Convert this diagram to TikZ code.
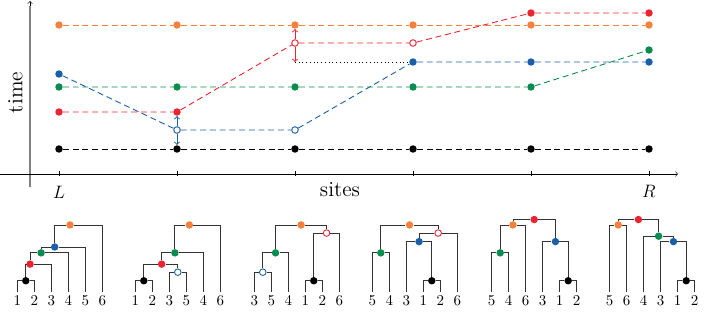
\documentclass[tikz,border=0pt]{standalone}
\usepackage{tikz}
\usetikzlibrary{arrows, positioning}
\definecolor{lorange}{HTML}{F4823C}
\definecolor{lred}{HTML}{EC2431}
\definecolor{lblue}{HTML}{1B5FA8}
\definecolor{lgreen}{HTML}{0B8C4F}
\tikzstyle{dot}    = [circle, inner sep=0pt, minimum size=5pt, fill=#1]
\tikzstyle{odot}   = [circle, inner sep=0pt, minimum size=4.4pt, draw=#1, fill=white, line width=0.6pt]
\tikzstyle{lin}    = [#1, dash pattern=on 4pt off 2.5pt, line width=0.6pt]
\tikzstyle{jump}   = [#1, line width=0.6pt, ->, >=to]
\tikzstyle{branch} = [black!80, line width=0.6pt]
\tikzstyle{leaf}   = [anchor=north, inner sep=2pt]

\begin{document}
\begin{tikzpicture}[x=0.0235cm, y=0.0235cm]
\useasboundingbox (0,-141) rectangle (705,174);

% osy
\coordinate (x0) at (0,0);
\coordinate (x1) at (678,0);
\coordinate (y0) at (30,-13);
\coordinate (y1) at (30,173);
\coordinate (y2) at (30,168);
\draw[gray, line width=1.2pt] (y0) -- (y2);
\draw[->, >=to] (y2) -- (y1);
\draw[->, >=to] (x0) -- (x1);
\foreach \s in {59,177,295,413,531,649}
  \draw (\s,2.5) -- (\s,-2.5);
\node[rotate=90] (time) at (15.5,81.5) {\Large time};
\node (sites) at (340,-16) {\Large sites};
\node (left)  at (59,-18)  {\large $L$};
\node (right) at (649,-17) {\large $R$};

% vrcholy nahoře
\node[dot=lorange] (o1) at (59,149)  {};
\node[dot=lorange] (o2) at (177,149) {};
\node[dot=lorange] (o3) at (295,149) {};
\node[dot=lorange] (o4) at (413,149) {};
\node[dot=lorange] (o5) at (531,149) {};
\node[dot=lorange] (o6) at (649,149) {};

\node[dot=lred]  (r1) at (59,62)   {};
\node[dot=lred]  (r2) at (177,62)  {};
\node[odot=lred] (r3) at (295,131) {};
\node[odot=lred] (r4) at (413,131) {};
\node[dot=lred]  (r5) at (531,161) {};
\node[dot=lred]  (r6) at (649,161) {};

\node[dot=lblue]  (b1) at (59,100)  {};
\node[odot=lblue] (b2) at (177,44)  {};
\node[odot=lblue] (b3) at (295,44)  {};
\node[dot=lblue]  (b4) at (413,112) {};
\node[dot=lblue]  (b5) at (531,112) {};
\node[dot=lblue]  (b6) at (649,112) {};

\node[dot=lgreen] (g1) at (59,87)   {};
\node[dot=lgreen] (g2) at (177,87)  {};
\node[dot=lgreen] (g3) at (295,87)  {};
\node[dot=lgreen] (g4) at (413,87)  {};
\node[dot=lgreen] (g5) at (531,87)  {};
\node[dot=lgreen] (g6) at (649,124) {};

\node[dot=black] (k1) at (59,25)  {};
\node[dot=black] (k2) at (177,25) {};
\node[dot=black] (k3) at (295,25) {};
\node[dot=black] (k4) at (413,25) {};
\node[dot=black] (k5) at (531,25) {};
\node[dot=black] (k6) at (649,25) {};

\coordinate (d3) at (295,112);

% linie
\draw[lin=lorange] (o1) -- (o2) -- (o3) -- (o4) -- (o5) -- (o6);
\draw[lin=lred]    (r1) -- (r2) -- (r3) -- (r4) -- (r5) -- (r6);
\draw[lin=lblue]   (b1) -- (b2) -- (b3) -- (b4) -- (b5) -- (b6);
\draw[lin=lgreen]  (g1) -- (g2) -- (g3) -- (g4) -- (g5) -- (g6);
\draw[lin=black]   (k1) -- (k2) -- (k3) -- (k4) -- (k5) -- (k6);
\draw[black, dotted, line width=0.5pt] (d3) -- (b4);

% skoky
\draw[jump=lblue] (b2) -- (r2);
\draw[jump=lblue] (b2) -- (k2);
\draw[jump=lred]  (r3) -- (o3);
\draw[jump=lred]  (r3) -- (d3);

% strom 1
\begin{scope}[shift={(17.3,-118)}, xscale=17, yscale=0.45]
\node[leaf] (a0) at (0,0) {1};
\node[leaf] (a1) at (1,0) {2};
\node[leaf] (a2) at (2,0) {3};
\node[leaf] (a3) at (3,0) {4};
\node[leaf] (a4) at (4,0) {5};
\node[leaf] (a5) at (5,0) {6};
\node[dot=black]   (ak) at (0.5,25)  {};
\node[dot=lred]    (ar) at (0.75,62) {};
\node[dot=lgreen]  (ag) at (1.4,87)  {};
\node[dot=lblue]   (ab) at (2.2,100) {};
\node[dot=lorange] (ao) at (3.1,149) {};
\draw[branch] (ak) -| (a0);  \draw[branch] (ak) -| (a1);
\draw[branch] (ar) -| (ak);  \draw[branch] (ar) -| (a2);
\draw[branch] (ag) -| (ar);  \draw[branch] (ag) -| (a3);
\draw[branch] (ab) -| (ag);  \draw[branch] (ab) -| (a4);
\draw[branch] (ao) -| (ab);  \draw[branch] (ao) -| (a5);
\end{scope}

% strom 2
\begin{scope}[shift={(135.3,-118)}, xscale=17, yscale=0.45]
\node[leaf] (c0) at (0,0) {1};
\node[leaf] (c1) at (1,0) {2};
\node[leaf] (c2) at (2,0) {3};
\node[leaf] (c3) at (3,0) {5};
\node[leaf] (c4) at (4,0) {4};
\node[leaf] (c5) at (5,0) {6};
\node[dot=black]   (ck) at (0.5,25)  {};
\node[odot=lblue]  (cb) at (2.5,44)  {};
\node[dot=lred]    (cr) at (1.55,62) {};
\node[dot=lgreen]  (cg) at (2.33,87) {};
\node[dot=lorange] (co) at (3.18,149) {};
\draw[branch] (ck) -| (c0);  \draw[branch] (ck) -| (c1);
\draw[branch] (cb) -| (c2);  \draw[branch] (cb) -| (c3);
\draw[branch] (cr) -| (ck);  \draw[branch] (cr) -| (cb);
\draw[branch] (cg) -| (cr);  \draw[branch] (cg) -| (c4);
\draw[branch] (co) -| (cg);  \draw[branch] (co) -| (c5);
\end{scope}

% strom 3
\begin{scope}[shift={(254.3,-118)}, xscale=17, yscale=0.45]
\node[leaf] (e0) at (0,0) {3};
\node[leaf] (e1) at (1,0) {5};
\node[leaf] (e2) at (2,0) {4};
\node[leaf] (e3) at (3,0) {1};
\node[leaf] (e4) at (4,0) {2};
\node[leaf] (e5) at (5,0) {6};
\node[odot=lblue]  (eb) at (0.5,44)   {};
\node[dot=lgreen]  (eg) at (1.25,87)  {};
\node[dot=black]   (ek) at (3.5,25)   {};
\node[odot=lred]   (er) at (4.25,131) {};
\node[dot=lorange] (eo) at (2.75,149) {};
\draw[branch] (eb) -| (e0);  \draw[branch] (eb) -| (e1);
\draw[branch] (eg) -| (eb);  \draw[branch] (eg) -| (e2);
\draw[branch] (ek) -| (e3);  \draw[branch] (ek) -| (e4);
\draw[branch] (er) -| (ek);  \draw[branch] (er) -| (e5);
\draw[branch] (eo) -| (eg);  \draw[branch] (eo) -| (er);
\end{scope}

% strom 4
\begin{scope}[shift={(372.3,-118)}, xscale=17, yscale=0.45]
\node[leaf] (f0) at (0,0) {5};
\node[leaf] (f1) at (1,0) {4};
\node[leaf] (f2) at (2,0) {3};
\node[leaf] (f3) at (3,0) {1};
\node[leaf] (f4) at (4,0) {2};
\node[leaf] (f5) at (5,0) {6};
\node[dot=lgreen]  (fg) at (0.5,87)    {};
\node[dot=black]   (fk) at (3.5,25)    {};
\node[dot=lblue]   (fb) at (2.75,112)  {};
\node[odot=lred]   (fr) at (3.875,131) {};
\node[dot=lorange] (fo) at (2.19,149)  {};
\draw[branch] (fg) -| (f0);  \draw[branch] (fg) -| (f1);
\draw[branch] (fk) -| (f3);  \draw[branch] (fk) -| (f4);
\draw[branch] (fb) -| (f2);  \draw[branch] (fb) -| (fk);
\draw[branch] (fr) -| (fb);  \draw[branch] (fr) -| (f5);
\draw[branch] (fo) -| (fg);  \draw[branch] (fo) -| (fr);
\end{scope}

% strom 5
\begin{scope}[shift={(491.7,-118)}, xscale=17, yscale=0.45]
\node[leaf] (h0) at (0,0) {5};
\node[leaf] (h1) at (1,0) {4};
\node[leaf] (h2) at (2,0) {6};
\node[leaf] (h3) at (3,0) {3};
\node[leaf] (h4) at (4,0) {1};
\node[leaf] (h5) at (5,0) {2};
\node[dot=lgreen]  (hg) at (0.5,87)   {};
\node[dot=lorange] (ho) at (1.25,149) {};
\node[dot=black]   (hk) at (4.5,25)   {};
\node[dot=lblue]   (hb) at (3.75,112) {};
\node[dot=lred]    (hr) at (2.5,161)  {};
\draw[branch] (hg) -| (h0);  \draw[branch] (hg) -| (h1);
\draw[branch] (ho) -| (hg);  \draw[branch] (ho) -| (h2);
\draw[branch] (hk) -| (h4);  \draw[branch] (hk) -| (h5);
\draw[branch] (hb) -| (h3);  \draw[branch] (hb) -| (hk);
\draw[branch] (hr) -| (ho);  \draw[branch] (hr) -| (hb);
\end{scope}

% strom 6
\begin{scope}[shift={(609.7,-118)}, xscale=17, yscale=0.45]
\node[leaf] (m0) at (0,0) {5};
\node[leaf] (m1) at (1,0) {6};
\node[leaf] (m2) at (2,0) {4};
\node[leaf] (m3) at (3,0) {3};
\node[leaf] (m4) at (4,0) {1};
\node[leaf] (m5) at (5,0) {2};
\node[dot=lorange] (mo) at (0.5,149)   {};
\node[dot=black]   (mk) at (4.5,25)    {};
\node[dot=lblue]   (mb) at (3.75,112)  {};
\node[dot=lgreen]  (mg) at (2.875,124) {};
\node[dot=lred]    (mr) at (1.69,161)  {};
\draw[branch] (mo) -| (m0);  \draw[branch] (mo) -| (m1);
\draw[branch] (mk) -| (m4);  \draw[branch] (mk) -| (m5);
\draw[branch] (mb) -| (m3);  \draw[branch] (mb) -| (mk);
\draw[branch] (mg) -| (m2);  \draw[branch] (mg) -| (mb);
\draw[branch] (mr) -| (mo);  \draw[branch] (mr) -| (mg);
\end{scope}

\end{tikzpicture}
\end{document}
